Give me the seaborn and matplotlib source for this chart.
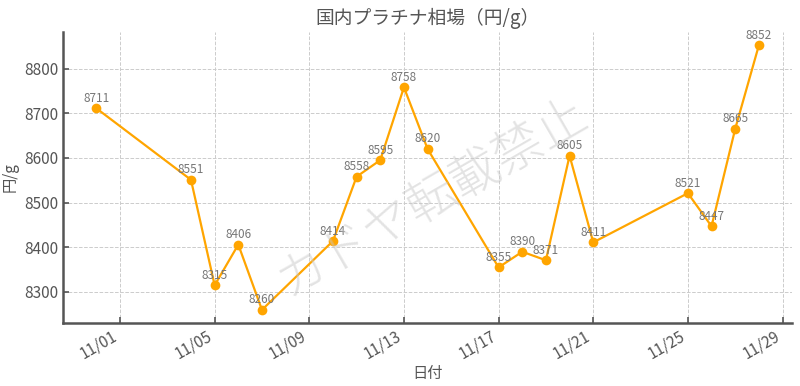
import matplotlib
matplotlib.use("Agg")
import matplotlib.pyplot as plt
import matplotlib.dates as mdates
import seaborn as sns
import pandas as pd

dates = ["2024-10-31", "2024-11-04", "2024-11-05", "2024-11-06", "2024-11-07",
         "2024-11-10", "2024-11-11", "2024-11-12", "2024-11-13", "2024-11-14",
         "2024-11-17", "2024-11-18", "2024-11-19", "2024-11-20", "2024-11-21",
         "2024-11-25", "2024-11-26", "2024-11-27", "2024-11-28"]
prices = [8711, 8551, 8315, 8406, 8260,
          8414, 8558, 8595, 8758, 8620,
          8355, 8390, 8371, 8605, 8411,
          8521, 8447, 8665, 8852]

df = pd.DataFrame({"date": pd.to_datetime(dates), "price": prices})

sns.set_theme(style="whitegrid")
plt.rcParams['font.family'] = ['Noto Sans CJK JP', 'DejaVu Sans']

fig, ax = plt.subplots(figsize=(8, 3.86), dpi=100)
sns.lineplot(data=df, x="date", y="price", ax=ax, color="#FFA500",
             marker="o", markersize=7, markeredgewidth=0, linewidth=1.6)

for d, p in zip(df["date"], df["price"]):
    ax.annotate(str(p), (d, p), textcoords="offset points", xytext=(0, 2.5),
                ha="center", va="bottom", fontsize=8.5, color="#777777")

ax.set_title("国内プラチナ相場（円/g）", fontsize=13.5, color="#555555")
ax.set_xlabel("日付", fontsize=11, color="#555555", labelpad=2)
ax.set_ylabel("円/g", fontsize=11, color="#555555")

ax.xaxis.set_major_locator(mdates.DayLocator(bymonthday=[1, 5, 9, 13, 17, 21, 25, 29]))
ax.xaxis.set_major_formatter(mdates.DateFormatter("%m/%d"))
plt.setp(ax.get_xticklabels(), rotation=30, ha="right")
ax.tick_params(axis="both", labelsize=11, colors="#555555", direction="in",
               length=4, width=1.2, bottom=True, left=True)

ax.grid(True, linestyle="--", color="#cccccc", linewidth=0.7)
ax.set_facecolor("white")
for s in ["top", "right"]:
    ax.spines[s].set_visible(False)
for s in ["left", "bottom"]:
    ax.spines[s].set_color("#555555")
    ax.spines[s].set_linewidth(1.8)

fig.text(0.54, 0.49, "カドヤ転載禁止", fontsize=36, color="#c8c8c8", alpha=0.5,
         fontweight="light", rotation=30, ha="center", va="center")

fig.subplots_adjust(left=0.079, right=0.99, top=0.917, bottom=0.163)
fig.savefig("out.png", dpi=100)
